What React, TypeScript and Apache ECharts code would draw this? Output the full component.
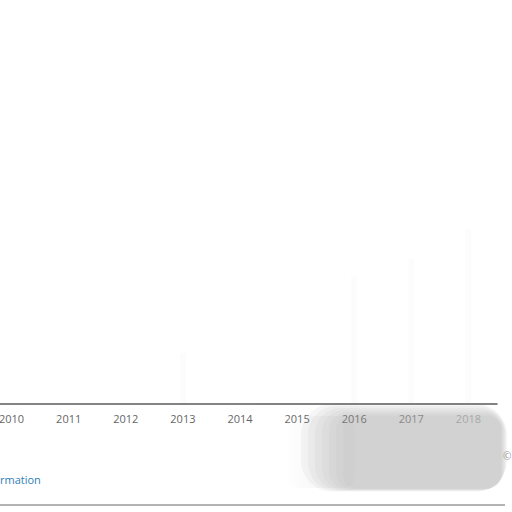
import React, { useEffect, useRef } from "react";
import * as echarts from "echarts";

const years = ["2010", "2011", "2012", "2013", "2014", "2015", "2016", "2017", "2018"];
const faintValues = [null, null, null, 14, null, null, 35, 40, 48];
const labelColors = ["#666", "#666", "#666", "#666", "#666", "#6a6a6a", "#777", "#8a8a8a", "#a8a8a8"];

const SHIFT = 17;

function smudge() {
  const els: any[] = [];
  const steps = 7;
  for (let i = 0; i < steps; i++) {
    const p = steps - i;
    els.push({
      type: "rect",
      z: 1,
      shape: {
        x: 350 + SHIFT - p * 7,
        y: 418 - p * 2,
        width: 150 + p * 8,
        height: 70 + p * 2.5,
        r: 10 + p * 3,
      },
      style: { fill: "#b5b5b5", opacity: 0.12 },
    });
  }
  els.push({
    type: "rect",
    z: 1,
    shape: { x: 285 + SHIFT, y: 416, width: 70, height: 72, r: 12 },
    style: {
      fill: new echarts.graphic.LinearGradient(0, 0, 1, 0, [
        { offset: 0, color: "rgba(200,200,200,0)" },
        { offset: 1, color: "rgba(200,200,200,0.3)" },
      ]),
    },
  });
  return els;
}

export default function App() {
  const ref = useRef<HTMLDivElement>(null);
  useEffect(() => {
    if (!ref.current) return;
    const chart = echarts.init(ref.current, null, { renderer: "svg" });
    chart.setOption({
      animation: false,
      backgroundColor: "#ffffff",
      grid: { left: 0, right: 15, top: 40, bottom: 108, containLabel: false },
      xAxis: {
        type: "category",
        data: years,
        z: 10,
        axisLine: { lineStyle: { color: "#5a5a5a", width: 1.5 } },
        axisTick: { show: false },
        axisLabel: {
          margin: 9,
          fontSize: 11,
          fontFamily: "Open Sans",
          color: (_v: string, i: number) => labelColors[i],
        },
      },
      yAxis: { type: "value", show: false, min: 0, max: 100, splitLine: { show: false } },
      graphic: [
        ...smudge(),
        {
          type: "line",
          z: 2,
          shape: { x1: SHIFT, y1: 505, x2: 505 + SHIFT, y2: 505 },
          style: { stroke: "#9a9a9a", lineWidth: 1.5 },
        },
        {
          type: "text",
          z: 3,
          x: SHIFT,
          y: 479,
          style: {
            text: "rmation",
            align: "left",
            verticalAlign: "middle",
            fill: "#2f7db6",
            fontSize: 11,
            fontFamily: "Open Sans",
          },
        },
        {
          type: "text",
          z: 3,
          x: 503 + SHIFT,
          y: 456,
          style: {
            text: "©",
            align: "left",
            verticalAlign: "middle",
            fill: "#999",
            fontSize: 10,
            fontFamily: "Open Sans",
          },
        },
      ],
      series: [
        {
          type: "bar",
          data: faintValues,
          barWidth: 6,
          itemStyle: { color: "#fcfcfc" },
          z: 0,
        },
      ],
    });
    return () => chart.dispose();
  }, []);
  return (
    <div
      ref={ref}
      style={{ position: "absolute", left: -SHIFT, top: 0, width: 512 + SHIFT, height: 512 }}
    />
  );
}
